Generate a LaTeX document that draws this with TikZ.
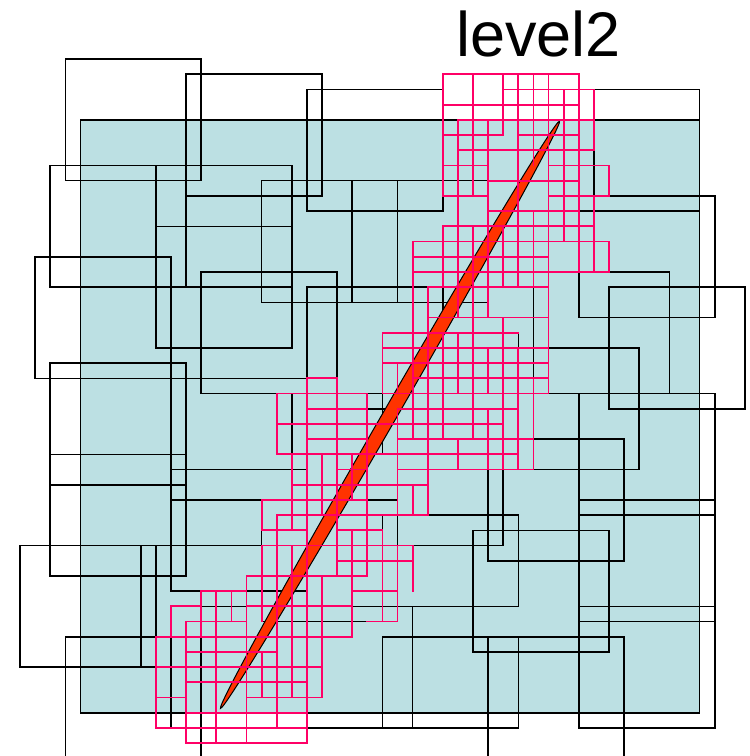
\documentclass[tikz,border=0pt]{standalone}
\usepackage{fontspec}
\setmainfont{Liberation Sans}
\definecolor{seablue}{RGB}{188,224,227}
\definecolor{finepink}{RGB}{255,0,102}
\definecolor{shockred}{RGB}{255,51,0}

\begin{document}
\begin{tikzpicture}[x=15.1pt, y=-15.2pt,
  basebox/.style={draw=black, line width=1.6pt, fill=seablue},
  patch/.style={draw=black, line width=1.6pt},
  fine/.style={draw=finepink, line width=1.8pt, line cap=rect},
  shock/.style={draw=black, line width=1pt, fill=shockred}]
\useasboundingbox (-10.331,-4.888) rectangle (39.272,44.849);
\clip (-10.331,-4.888) rectangle (39.272,44.849);

% base domain
\draw[basebox] (-5,3) rectangle (36,42);

% level 1 patches
\foreach \a/\b/\c/\d in {-6/-1/3/7, 2/0/11/8, 10/1/19/9, 27/1/36/9,
    -7/6/2/14, 0/6/9/14, 0/10/9/18, 7/7/16/15, 13/7/22/15, -8/12/1/20,
    3/13/12/21, 28/8/37/16, 30/14/39/22, 20/5/29/13, 25/13/34/21,
    17/12/26/20, 23/18/32/26, 28/21/37/29, 28/28/37/36, 28/35/37/43,
    22/24/31/32, -7/19/2/27, -7/25/2/33, 1/20/10/28, 1/26/10/34,
    7/28/16/36, 1/35/10/43, -9/31/0/39, -1/31/8/39, -6/37/3/45,
    15/37/24/43, 15/29/24/35, 22/37/31/45, 21/30/30/38, 14/23/23/31,
    15/17/24/25, 10/14/19/22, 9/21/18/29, 8/35/17/43}
  \draw[patch] (\a,\b) rectangle (\c,\d);

% the shock
\draw[shock, shift={(15.497,22.40)}, rotate=60] (0,0) ellipse [x radius=339pt, y radius=7pt];

% level 2 cells
\foreach \j/\a/\b in {0/19/28, 1/23/29, 2/19/28, 3/20/29, 4/19/23, 4/24/28,
    5/20/29, 6/19/22, 6/26/30, 7/22/28, 8/19/22, 8/26/30, 9/22/28,
    10/19/29, 11/17/30, 12/17/26, 13/17/30, 14/18/26, 16/18/26,
    17/15/24, 18/15/26, 19/15/26, 20/10/12, 20/17/26, 21/8/14, 21/15/26,
    22/10/14, 22/16/24, 23/8/23, 24/10/14, 24/16/25, 25/8/24, 26/12/14,
    26/16/25, 27/9/18, 28/7/14, 29/8/18, 30/7/10, 30/12/15, 31/7/17,
    32/12/17, 33/6/14, 34/3/6, 34/13/16, 35/1/3, 35/6/13, 36/2/6,
    36/14/16, 37/0/13, 38/2/8, 39/0/11, 40/2/10, 41/0/2, 41/6/11,
    42/2/10, 43/0/10, 44/2/10}
  \draw[fine] (\a,\j) -- (\b,\j);
\foreach \i/\a/\b in {0/37/43, 1/35/37, 2/36/44, 3/34/37, 4/34/44, 5/34/36,
    6/33/44, 7/28/30, 7/31/36, 7/38/41, 8/21/25, 8/29/43, 9/25/30, 9/31/41,
    10/20/44, 11/25/29, 11/33/41, 12/20/33, 13/25/28, 13/30/37, 14/21/33,
    15/17/21, 15/30/36, 16/19/21, 16/22/29, 16/31/36, 17/11/24,
    17/27/29, 17/31/34, 18/14/29, 19/0/8, 19/10/14, 19/17/24, 20/3/16,
    20/17/21, 20/24/26, 21/0/8, 21/10/24, 22/3/16, 22/18/21, 22/22/26,
    23/0/4, 23/10/14, 23/16/26, 24/0/14, 24/18/26, 25/0/6, 25/9/14,
    25/20/26, 26/0/21, 27/1/11, 28/0/13, 29/1/5, 29/8/13, 30/6/8, 30/11/13}
  \draw[fine] (\i,\a) -- (\i,\b);

\node[anchor=base west, inner sep=0pt, font=\fontsize{63pt}{63pt}\selectfont] (title) at (19.868,-1.158) {level2};
\end{tikzpicture}
\end{document}
